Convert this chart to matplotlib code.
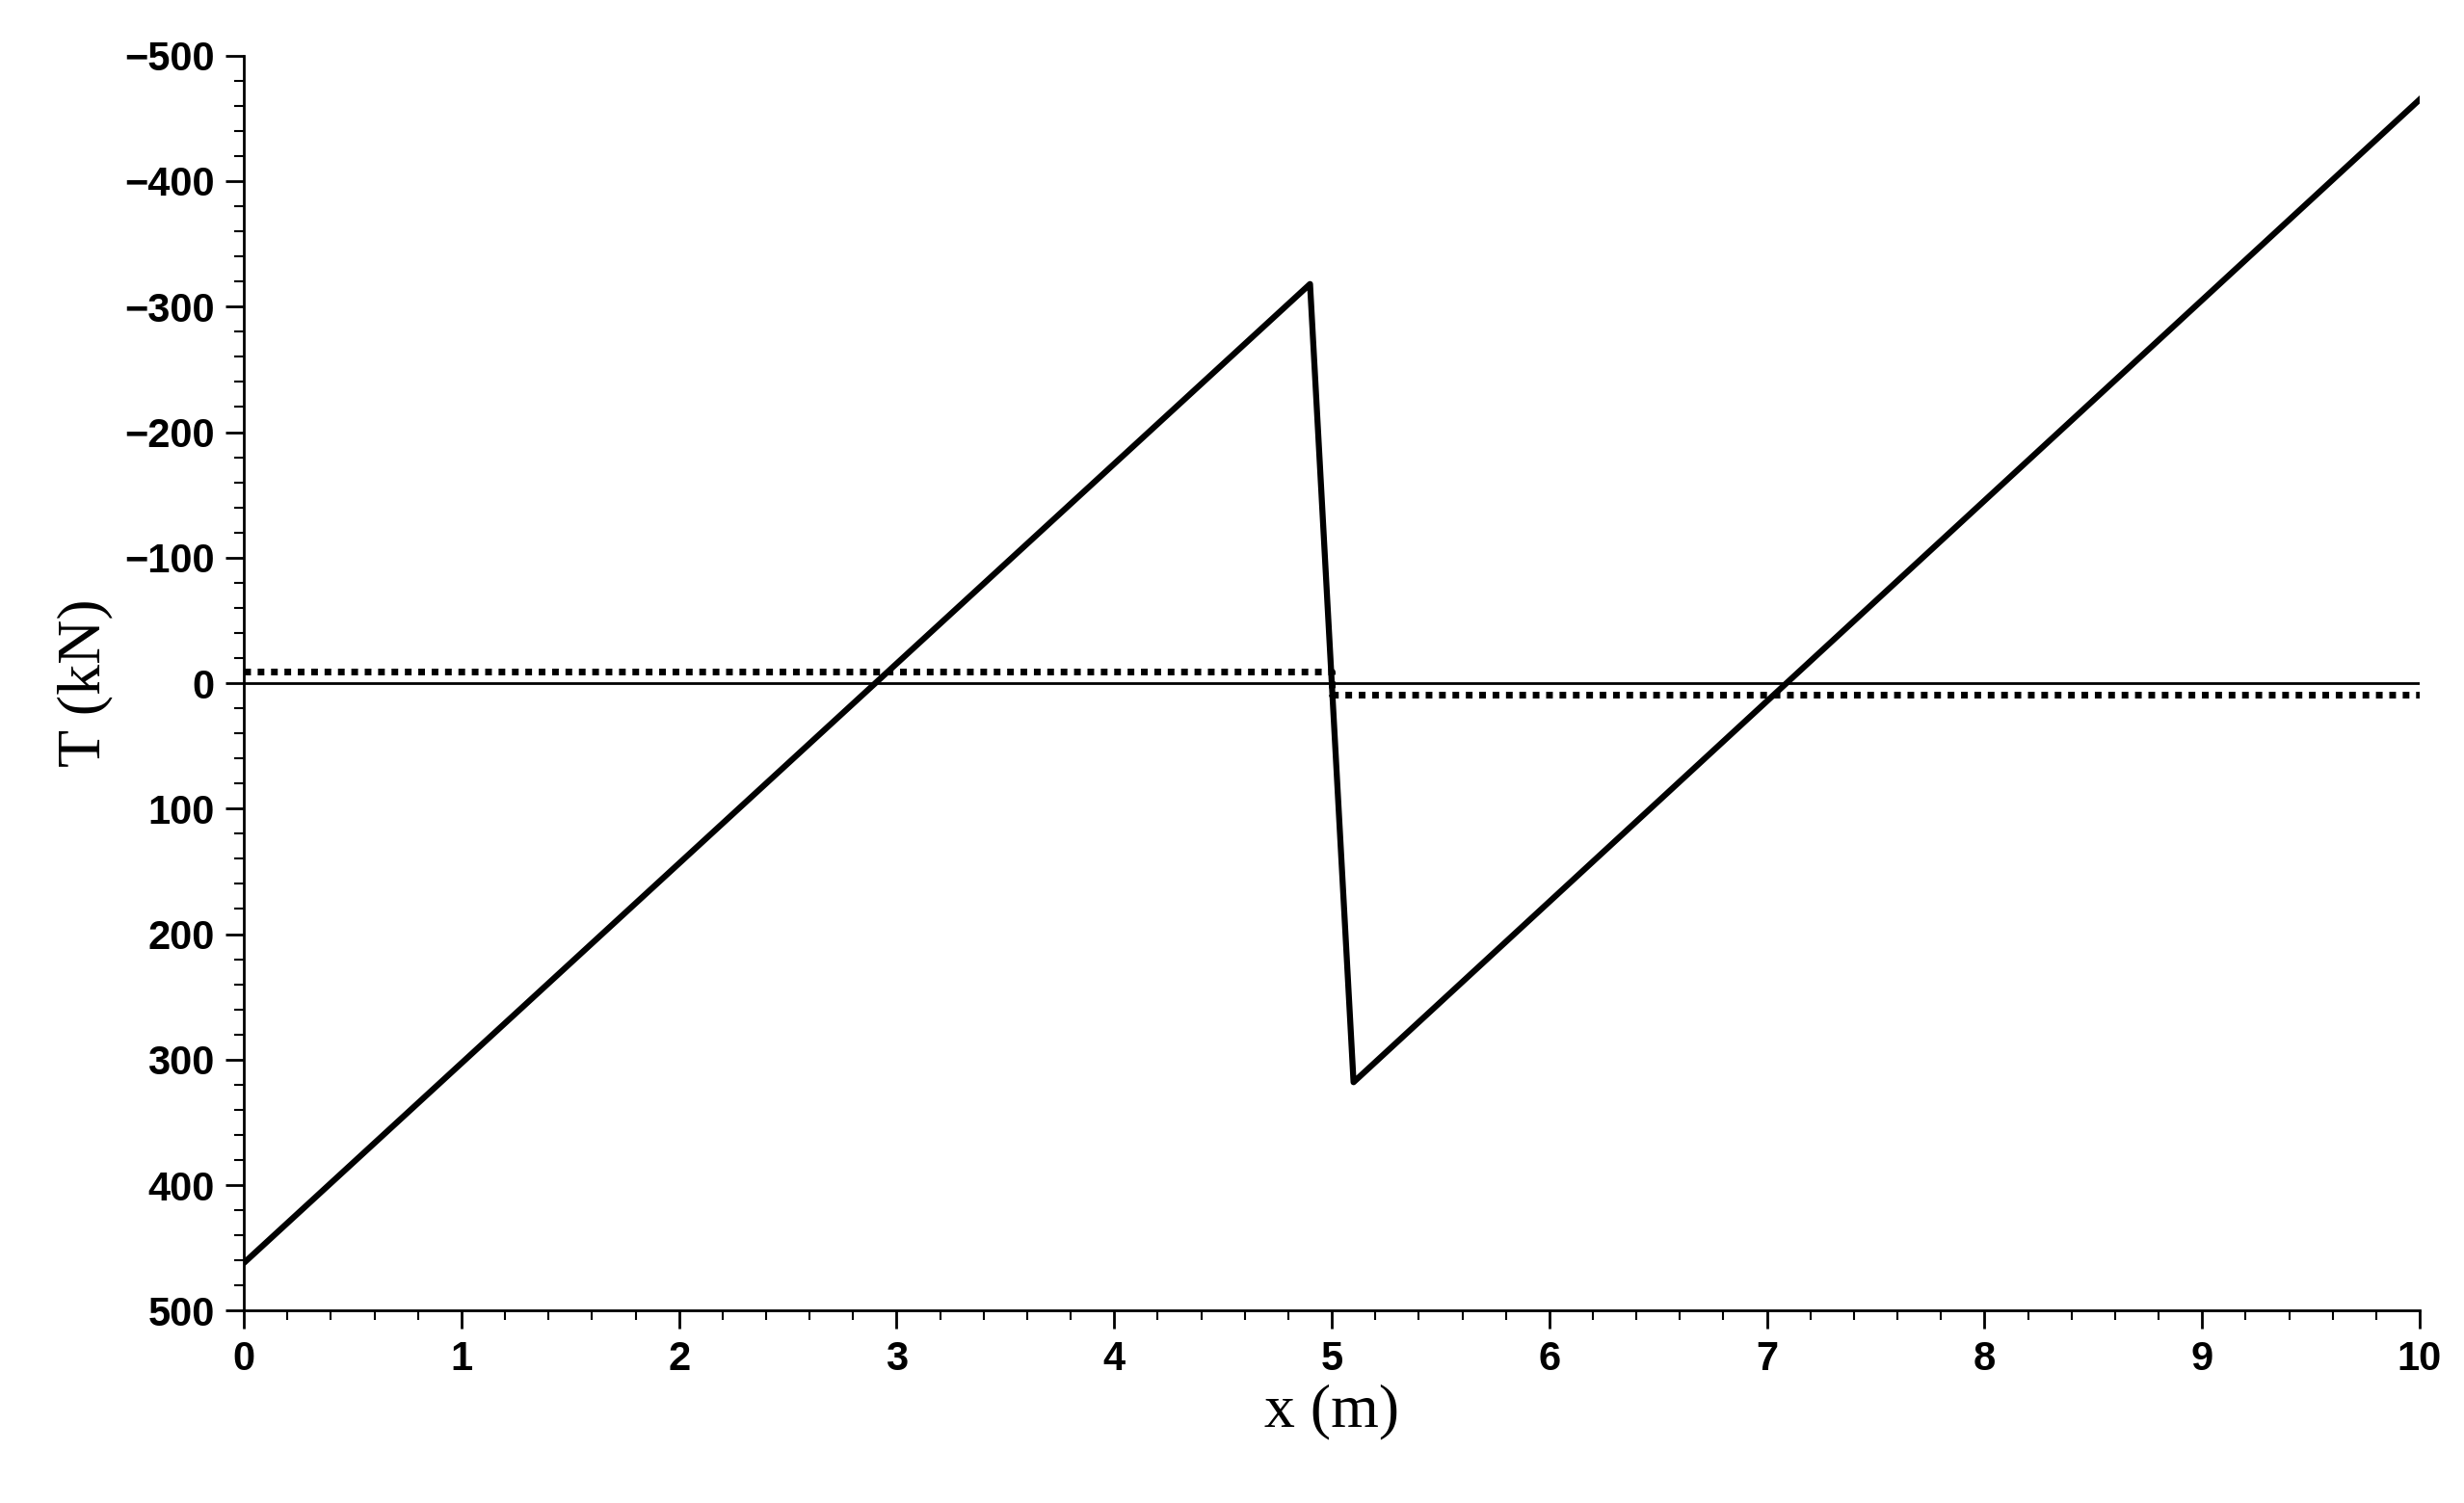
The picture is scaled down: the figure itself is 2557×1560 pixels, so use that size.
import matplotlib
matplotlib.use("Agg")
import matplotlib.pyplot as plt
from matplotlib.ticker import MultipleLocator

# main curve T(x)
x_main = [0.0, 4.9, 4.9, 5.1, 5.1, 10.0]
t_main = [462, -318, -318, 318, 318, -465]
# dotted step
x_dot = [0.0, 5.0, 5.0, 10.0]
t_dot = [-9, -9, 9, 9]

fig = plt.figure(figsize=(25.57, 15.6), dpi=100)
ax = fig.add_axes([0.099, 0.128, 0.883, 0.835])

ax.plot(x_main, t_main, color="black", lw=4.5)
ax.plot(x_dot, t_dot, color="black", lw=5, linestyle=(0, (1, 1)))
ax.axhline(0, color="black", lw=2)

ax.set_xlim(0, 10)
ax.set_ylim(500, -500)
ax.xaxis.set_major_locator(MultipleLocator(1))
ax.xaxis.set_minor_locator(MultipleLocator(0.2))
ax.yaxis.set_major_locator(MultipleLocator(100))
ax.yaxis.set_minor_locator(MultipleLocator(20))
for s in ["top", "right"]:
    ax.spines[s].set_visible(False)
for s in ["left", "bottom"]:
    ax.spines[s].set_linewidth(2)
ax.tick_params(which="major", length=14, width=2, labelsize=30, pad=8)
ax.tick_params(which="minor", length=7, width=1.5)
for lab in ax.get_xticklabels() + ax.get_yticklabels():
    lab.set_fontfamily("Liberation Sans")
    lab.set_fontweight("bold")

ax.set_xlabel("x (m)", fontsize=46, family="Liberation Serif", labelpad=4)
ax.set_ylabel("T (kN)", fontsize=46, family="Liberation Serif", labelpad=8)

fig.savefig("out.png", dpi=100)
